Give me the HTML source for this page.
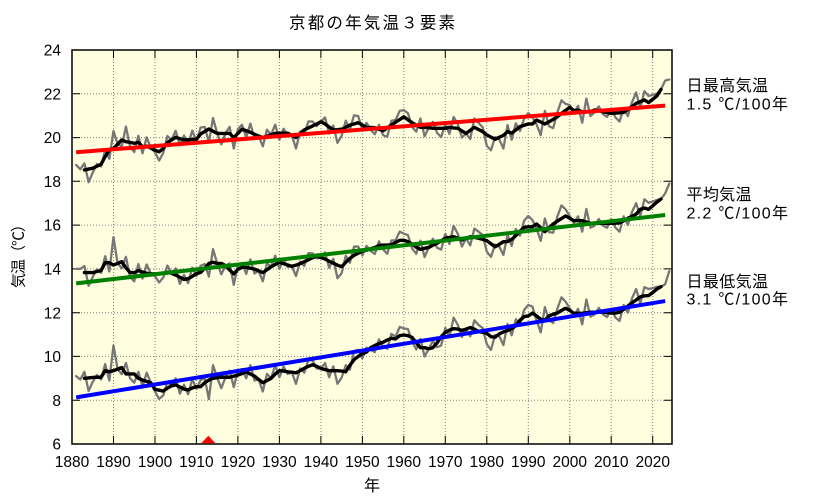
<!DOCTYPE html>
<html><head><meta charset="utf-8">
<style>
html,body{margin:0;padding:0;background:#fff;}
svg{display:block;}
text{font-family:"Liberation Sans","Noto Sans CJK JP",sans-serif;fill:#000;}
polyline{vector-effect:non-scaling-stroke;fill:none;stroke-linejoin:round;stroke-linecap:round;}
</style></head>
<body>
<svg width="833" height="498" viewBox="0 0 833 498" xmlns="http://www.w3.org/2000/svg">
<rect x="0" y="0" width="833" height="498" fill="#fff"/>
<rect x="72" y="50" width="600" height="394" fill="#ffffe0"/>
<!-- grid -->
<g stroke="#808080" stroke-width="1" stroke-dasharray="1 2">
<line x1="113.5" y1="50" x2="113.5" y2="444"/>
<line x1="155" y1="50" x2="155" y2="444"/>
<line x1="196.4" y1="50" x2="196.4" y2="444"/>
<line x1="237.9" y1="50" x2="237.9" y2="444"/>
<line x1="279.4" y1="50" x2="279.4" y2="444"/>
<line x1="320.9" y1="50" x2="320.9" y2="444"/>
<line x1="362.4" y1="50" x2="362.4" y2="444"/>
<line x1="403.8" y1="50" x2="403.8" y2="444"/>
<line x1="445.3" y1="50" x2="445.3" y2="444"/>
<line x1="486.8" y1="50" x2="486.8" y2="444"/>
<line x1="528.3" y1="50" x2="528.3" y2="444"/>
<line x1="569.8" y1="50" x2="569.8" y2="444"/>
<line x1="611.2" y1="50" x2="611.2" y2="444"/>
<line x1="652.7" y1="50" x2="652.7" y2="444"/>
<line x1="72" y1="400.2" x2="672" y2="400.2"/>
<line x1="72" y1="356.4" x2="672" y2="356.4"/>
<line x1="72" y1="312.7" x2="672" y2="312.7"/>
<line x1="72" y1="268.9" x2="672" y2="268.9"/>
<line x1="72" y1="225.1" x2="672" y2="225.1"/>
<line x1="72" y1="181.3" x2="672" y2="181.3"/>
<line x1="72" y1="137.6" x2="672" y2="137.6"/>
<line x1="72" y1="93.8" x2="672" y2="93.8"/>
</g>
<!-- ticks -->
<g stroke="#000" stroke-width="1">
<path d="M113.5 444v-8M155 444v-8M196.4 444v-8M237.9 444v-8M279.4 444v-8M320.9 444v-8M362.4 444v-8M403.8 444v-8M445.3 444v-8M486.8 444v-8M528.3 444v-8M569.8 444v-8M611.2 444v-8M652.7 444v-8"/>
<path d="M113.5 50v8M155 50v8M196.4 50v8M237.9 50v8M279.4 50v8M320.9 50v8M362.4 50v8M403.8 50v8M445.3 50v8M486.8 50v8M528.3 50v8M569.8 50v8M611.2 50v8M652.7 50v8"/>
<path d="M72 400.2h8M72 356.4h8M72 312.7h8M72 268.9h8M72 225.1h8M72 181.3h8M72 137.6h8M72 93.8h8"/>
<path d="M672 400.2h-8M672 356.4h-8M672 312.7h-8M672 268.9h-8M672 225.1h-8M672 181.3h-8M672 137.6h-8M672 93.8h-8"/>
</g>

<g transform="translate(72,444) scale(4.148,-21.889) translate(-1880,-6)">
<!-- gray annual -->
<g stroke="#767676" stroke-width="2.3">
<polyline points="1881,18.75 1882,18.55 1883,18.82 1884,17.96 1885,18.40 1886,18.79 1887,18.68 1888,19.43 1889,19.03 1890,20.30 1891,19.70 1892,19.59 1893,20.50 1894,19.58 1895,19.34 1896,20.08 1897,19.28 1898,20.01 1899,19.52 1900,19.33 1901,18.95 1902,19.30 1903,20.07 1904,19.89 1905,20.31 1906,19.65 1907,20.09 1908,19.70 1909,20.32 1910,19.82 1911,20.46 1912,20.48 1913,19.79 1914,20.89 1915,20.19 1916,19.69 1917,20.19 1918,20.49 1919,19.50 1920,20.39 1921,20.58 1922,20.01 1923,20.64 1924,19.95 1925,20.07 1926,19.60 1927,20.36 1928,20.13 1929,20.59 1930,19.90 1931,20.40 1932,20.10 1933,20.10 1934,19.50 1935,20.28 1936,20.15 1937,20.74 1938,20.73 1939,20.52 1940,20.72 1941,20.92 1942,20.18 1943,20.55 1944,19.76 1945,20.08 1946,20.77 1947,20.37 1948,21.02 1949,20.98 1950,20.37 1951,20.67 1952,20.36 1953,20.15 1954,20.58 1955,20.11 1956,20.04 1957,20.77 1958,20.80 1959,21.22 1960,21.25 1961,21.11 1962,20.48 1963,20.27 1964,20.87 1965,20.06 1966,20.45 1967,20.72 1968,20.22 1969,20.02 1970,20.62 1971,20.17 1972,20.94 1973,20.62 1974,20.00 1975,20.19 1976,19.93 1977,20.87 1978,20.67 1979,20.47 1980,19.62 1981,19.42 1982,20.02 1983,19.91 1984,19.50 1985,20.57 1986,19.90 1987,20.65 1988,20.30 1989,20.86 1990,21.12 1991,20.92 1992,20.60 1993,20.11 1994,21.22 1995,20.52 1996,20.43 1997,21.15 1998,21.70 1999,21.54 2000,21.48 2001,21.13 2002,21.45 2003,20.68 2004,21.78 2005,20.98 2006,21.16 2007,21.42 2008,21.08 2009,20.94 2010,21.30 2011,20.92 2012,20.73 2013,21.35 2014,20.98 2015,21.61 2016,22.06 2017,21.34 2018,22.12 2019,21.90 2020,21.95 2021,22.00 2022,22.20 2023,22.60 2024,22.65"/>
<polyline points="1881,14.00 1882,14.00 1883,14.13 1884,13.23 1885,13.63 1886,13.98 1887,13.82 1888,14.58 1889,13.88 1890,15.45 1891,14.25 1892,14.03 1893,14.55 1894,13.63 1895,13.43 1896,14.22 1897,13.56 1898,14.20 1899,13.78 1900,13.67 1901,13.38 1902,13.60 1903,14.15 1904,13.80 1905,14.02 1906,13.32 1907,13.72 1908,13.35 1909,14.06 1910,13.68 1911,14.14 1912,14.22 1913,13.65 1914,14.90 1915,14.25 1916,13.75 1917,14.15 1918,14.25 1919,13.27 1920,14.18 1921,14.27 1922,13.77 1923,14.43 1924,13.79 1925,13.91 1926,13.43 1927,14.26 1928,14.10 1929,14.60 1930,14.00 1931,14.44 1932,14.08 1933,14.12 1934,13.67 1935,14.34 1936,14.13 1937,14.72 1938,14.71 1939,14.48 1940,14.52 1941,14.75 1942,14.05 1943,14.46 1944,13.57 1945,13.80 1946,14.60 1947,14.28 1948,15.02 1949,15.02 1950,14.62 1951,15.05 1952,14.82 1953,14.68 1954,15.26 1955,14.89 1956,14.69 1957,15.30 1958,15.30 1959,15.70 1960,15.61 1961,15.54 1962,14.93 1963,14.69 1964,15.29 1965,14.54 1966,14.98 1967,15.38 1968,14.97 1969,14.88 1970,15.60 1971,15.14 1972,15.97 1973,15.60 1974,15.02 1975,15.40 1976,15.07 1977,15.84 1978,15.70 1979,15.55 1980,14.79 1981,14.55 1982,15.11 1983,15.02 1984,14.64 1985,15.55 1986,15.05 1987,15.82 1988,15.52 1989,16.20 1990,16.42 1991,16.23 1992,15.85 1993,15.28 1994,16.30 1995,15.68 1996,15.65 1997,16.38 1998,16.90 1999,16.72 2000,16.41 2001,16.10 2002,16.40 2003,15.70 2004,16.74 2005,15.88 2006,15.98 2007,16.28 2008,15.98 2009,15.88 2010,16.28 2011,15.89 2012,15.70 2013,16.40 2014,16.01 2015,16.60 2016,17.00 2017,16.42 2018,17.18 2019,17.02 2020,17.08 2021,17.15 2022,17.19 2023,17.45 2024,17.90"/>
<polyline points="1881,9.10 1882,8.95 1883,9.30 1884,8.42 1885,8.84 1886,9.15 1887,8.95 1888,9.65 1889,8.90 1890,10.50 1891,9.42 1892,9.19 1893,9.70 1894,9.00 1895,8.80 1896,9.30 1897,8.62 1898,9.26 1899,8.80 1900,8.40 1901,8.06 1902,8.22 1903,8.85 1904,8.66 1905,9.00 1906,8.30 1907,8.71 1908,8.27 1909,8.96 1910,8.52 1911,8.92 1912,9.00 1913,8.05 1914,9.60 1915,9.03 1916,8.55 1917,9.05 1918,9.35 1919,8.60 1920,9.35 1921,9.42 1922,9.00 1923,9.60 1924,8.90 1925,8.95 1926,8.40 1927,9.20 1928,9.00 1929,9.60 1930,9.05 1931,9.53 1932,9.20 1933,9.28 1934,8.75 1935,9.45 1936,9.26 1937,9.85 1938,9.82 1939,9.45 1940,9.45 1941,9.70 1942,9.05 1943,9.55 1944,8.75 1945,9.03 1946,9.60 1947,9.40 1948,10.25 1949,10.30 1950,9.92 1951,10.40 1952,10.30 1953,10.20 1954,10.78 1955,10.45 1956,10.35 1957,11.03 1958,10.90 1959,11.35 1960,11.28 1961,11.25 1962,10.67 1963,10.32 1964,10.80 1965,10.00 1966,10.35 1967,10.70 1968,10.42 1969,10.50 1970,11.30 1971,10.90 1972,11.77 1973,11.45 1974,10.89 1975,11.25 1976,10.92 1977,11.65 1978,11.44 1979,11.30 1980,10.56 1981,10.30 1982,10.98 1983,10.93 1984,10.52 1985,11.48 1986,10.97 1987,11.70 1988,11.45 1989,12.12 1990,12.35 1991,12.28 1992,11.65 1993,11.10 1994,12.25 1995,11.65 1996,11.53 1997,12.18 1998,12.70 1999,12.50 2000,12.20 2001,11.87 2002,12.17 2003,11.47 2004,12.60 2005,11.82 2006,11.92 2007,12.22 2008,11.92 2009,11.80 2010,12.18 2011,11.78 2012,11.62 2013,12.35 2014,12.00 2015,12.65 2016,13.08 2017,12.42 2018,13.17 2019,13.08 2020,13.12 2021,13.18 2022,13.19 2023,13.30 2024,13.90"/>
</g>
<!-- 5-year running means -->
<g stroke="#000" stroke-width="3.4">
<polyline points="1883,18.52 1884,18.56 1885,18.60 1886,18.69 1887,18.78 1888,19.13 1889,19.43 1890,19.50 1891,19.70 1892,19.89 1893,19.81 1894,19.78 1895,19.74 1896,19.78 1897,19.58 1898,19.61 1899,19.52 1900,19.43 1901,19.35 1902,19.50 1903,19.77 1904,19.89 1905,20.01 1906,19.95 1907,19.89 1908,19.90 1909,19.92 1910,19.92 1911,20.16 1912,20.28 1913,20.39 1914,20.29 1915,20.19 1916,20.19 1917,20.19 1918,20.19 1919,20.00 1920,20.19 1921,20.38 1922,20.31 1923,20.24 1924,20.15 1925,20.07 1926,20.00 1927,20.06 1928,20.13 1929,20.19 1930,20.20 1931,20.20 1932,20.20 1933,20.10 1934,20.00 1935,20.18 1936,20.35 1937,20.44 1938,20.53 1939,20.62 1940,20.72 1941,20.62 1942,20.48 1943,20.35 1944,20.36 1945,20.38 1946,20.47 1947,20.57 1948,20.62 1949,20.68 1950,20.57 1951,20.47 1952,20.46 1953,20.45 1954,20.38 1955,20.31 1956,20.44 1957,20.57 1958,20.70 1959,20.82 1960,20.95 1961,20.81 1962,20.68 1963,20.57 1964,20.47 1965,20.46 1966,20.45 1967,20.42 1968,20.42 1969,20.42 1970,20.42 1971,20.47 1972,20.44 1973,20.42 1974,20.30 1975,20.19 1976,20.33 1977,20.47 1978,20.37 1979,20.27 1980,20.12 1981,20.02 1982,19.92 1983,20.01 1984,20.10 1985,20.27 1986,20.20 1987,20.35 1988,20.50 1989,20.56 1990,20.62 1991,20.62 1992,20.80 1993,20.71 1994,20.62 1995,20.72 1996,20.83 1997,20.95 1998,21.10 1999,21.24 2000,21.38 2001,21.23 2002,21.25 2003,21.18 2004,21.18 2005,21.18 2006,21.26 2007,21.22 2008,21.18 2009,21.14 2010,21.10 2011,21.12 2012,21.13 2013,21.15 2014,21.28 2015,21.41 2016,21.56 2017,21.64 2018,21.72 2019,21.60 2020,21.75 2021,21.90 2022,22.20"/>
<polyline points="1883,13.83 1884,13.83 1885,13.83 1886,13.88 1887,13.92 1888,14.28 1889,14.28 1890,14.18 1891,14.25 1892,14.33 1893,14.05 1894,13.83 1895,13.83 1896,13.92 1897,13.86 1898,13.80 1899,13.78 1900,13.77 1901,13.78 1902,13.80 1903,13.85 1904,13.80 1905,13.72 1906,13.62 1907,13.52 1908,13.55 1909,13.66 1910,13.78 1911,13.84 1912,14.02 1913,14.25 1914,14.30 1915,14.25 1916,14.25 1917,14.15 1918,13.95 1919,13.77 1920,13.98 1921,14.07 1922,14.07 1923,14.03 1924,13.99 1925,13.91 1926,13.83 1927,13.96 1928,14.10 1929,14.20 1930,14.30 1931,14.24 1932,14.18 1933,14.12 1934,14.17 1935,14.24 1936,14.33 1937,14.42 1938,14.51 1939,14.58 1940,14.52 1941,14.45 1942,14.35 1943,14.26 1944,14.17 1945,14.10 1946,14.30 1947,14.48 1948,14.62 1949,14.72 1950,14.82 1951,14.85 1952,14.92 1953,14.98 1954,15.06 1955,15.09 1956,15.09 1957,15.10 1958,15.20 1959,15.30 1960,15.31 1961,15.24 1962,15.13 1963,14.99 1964,14.89 1965,14.94 1966,14.98 1967,15.08 1968,15.17 1969,15.28 1970,15.40 1971,15.44 1972,15.47 1973,15.40 1974,15.32 1975,15.40 1976,15.47 1977,15.44 1978,15.40 1979,15.35 1980,15.29 1981,15.15 1982,15.01 1983,15.12 1984,15.24 1985,15.25 1986,15.35 1987,15.52 1988,15.72 1989,15.90 1990,15.92 1991,15.93 1992,16.05 1993,15.88 1994,15.70 1995,15.88 1996,16.05 1997,16.18 1998,16.30 1999,16.42 2000,16.31 2001,16.20 2002,16.20 2003,16.20 2004,16.14 2005,16.08 2006,16.08 2007,16.08 2008,16.08 2009,16.08 2010,16.08 2011,16.09 2012,16.10 2013,16.20 2014,16.31 2015,16.40 2016,16.50 2017,16.72 2018,16.78 2019,16.72 2020,16.88 2021,17.05 2022,17.19"/>
<polyline points="1883,9.00 1884,9.02 1885,9.04 1886,9.05 1887,9.05 1888,9.35 1889,9.30 1890,9.35 1891,9.42 1892,9.49 1893,9.20 1894,9.20 1895,9.20 1896,9.00 1897,8.92 1898,8.86 1899,8.80 1900,8.50 1901,8.46 1902,8.42 1903,8.55 1904,8.66 1905,8.70 1906,8.60 1907,8.51 1908,8.47 1909,8.56 1910,8.62 1911,8.62 1912,8.80 1913,8.92 1914,9.00 1915,9.03 1916,9.05 1917,9.05 1918,9.05 1919,9.10 1920,9.15 1921,9.22 1922,9.30 1923,9.20 1924,9.10 1925,8.95 1926,8.80 1927,8.90 1928,9.00 1929,9.20 1930,9.35 1931,9.33 1932,9.30 1933,9.28 1934,9.25 1935,9.35 1936,9.46 1937,9.55 1938,9.62 1939,9.55 1940,9.45 1941,9.40 1942,9.35 1943,9.35 1944,9.35 1945,9.33 1946,9.30 1947,9.60 1948,9.85 1949,10.00 1950,10.12 1951,10.20 1952,10.40 1953,10.50 1954,10.58 1955,10.65 1956,10.75 1957,10.83 1958,10.80 1959,10.95 1960,10.98 1961,10.95 1962,10.87 1963,10.62 1964,10.40 1965,10.40 1966,10.35 1967,10.40 1968,10.62 1969,10.90 1970,11.10 1971,11.20 1972,11.27 1973,11.25 1974,11.19 1975,11.25 1976,11.32 1977,11.25 1978,11.14 1979,11.10 1980,11.06 1981,10.90 1982,10.88 1983,11.03 1984,11.12 1985,11.18 1986,11.27 1987,11.40 1988,11.65 1989,11.82 1990,11.85 1991,11.98 1992,11.85 1993,11.70 1994,11.65 1995,11.85 1996,11.93 1997,11.98 1998,12.10 1999,12.20 2000,12.10 2001,11.97 2002,11.97 2003,11.97 2004,12.00 2005,12.02 2006,12.02 2007,12.02 2008,12.02 2009,12.00 2010,11.98 2011,11.98 2012,12.02 2013,12.15 2014,12.30 2015,12.45 2016,12.58 2017,12.72 2018,12.77 2019,12.78 2020,12.92 2021,13.08 2022,13.19"/>
</g>
<!-- trends -->
<polyline points="1881,19.33 2023,21.46" stroke="#ff0000" stroke-width="4" style="stroke-linecap:butt"/>
<polyline points="1881,13.34 2023,16.46" stroke="#008000" stroke-width="4" style="stroke-linecap:butt"/>
<polyline points="1881,8.13 2023,12.53" stroke="#0000ff" stroke-width="4" style="stroke-linecap:butt"/>
</g>

<!-- border -->
<rect x="72" y="50" width="600" height="394" fill="none" stroke="#000" stroke-width="1.5"/>
<polygon points="208.3,435.8 201.2,443.3 215.4,443.3" fill="#ff0000"/>

<!-- title -->
<text x="372" y="28.5" font-size="16.5" text-anchor="middle" textLength="166" lengthAdjust="spacing">京都の年気温３要素</text>

<!-- y tick labels -->
<g font-size="15.5" text-anchor="end">
<text x="61" y="55.6">24</text>
<text x="61" y="99.4">22</text>
<text x="61" y="143.2">20</text>
<text x="61" y="186.9">18</text>
<text x="61" y="230.7">16</text>
<text x="61" y="274.5">14</text>
<text x="61" y="318.3">12</text>
<text x="61" y="362">10</text>
<text x="61" y="405.8">8</text>
<text x="61" y="449.6">6</text>
</g>
<!-- x tick labels -->
<g font-size="15.5" text-anchor="middle">
<text x="72" y="467">1880</text>
<text x="113.5" y="467">1890</text>
<text x="155" y="467">1900</text>
<text x="196.4" y="467">1910</text>
<text x="237.9" y="467">1920</text>
<text x="279.4" y="467">1930</text>
<text x="320.9" y="467">1940</text>
<text x="362.4" y="467">1950</text>
<text x="403.8" y="467">1960</text>
<text x="445.3" y="467">1970</text>
<text x="486.8" y="467">1980</text>
<text x="528.3" y="467">1990</text>
<text x="569.8" y="467">2000</text>
<text x="611.2" y="467">2010</text>
<text x="652.7" y="467">2020</text>
</g>
<text x="372" y="491" font-size="16" text-anchor="middle">年</text>
<text transform="translate(23.5,252.5) rotate(-90)" font-size="15" text-anchor="middle" textLength="71" lengthAdjust="spacing">気温（℃）</text>

<!-- right labels -->
<g font-size="16">
<text x="686.5" y="91" textLength="81.5" lengthAdjust="spacing">日最高気温</text>
<text x="686.5" y="109.5" textLength="101.5" lengthAdjust="spacing">1.5 ℃/100年</text>
<text x="686.5" y="200" textLength="65" lengthAdjust="spacing">平均気温</text>
<text x="686.5" y="218.5" textLength="101.5" lengthAdjust="spacing">2.2 ℃/100年</text>
<text x="686.5" y="287" textLength="81.5" lengthAdjust="spacing">日最低気温</text>
<text x="686.5" y="304.5" textLength="101.5" lengthAdjust="spacing">3.1 ℃/100年</text>
</g>
</svg>
</body></html>
